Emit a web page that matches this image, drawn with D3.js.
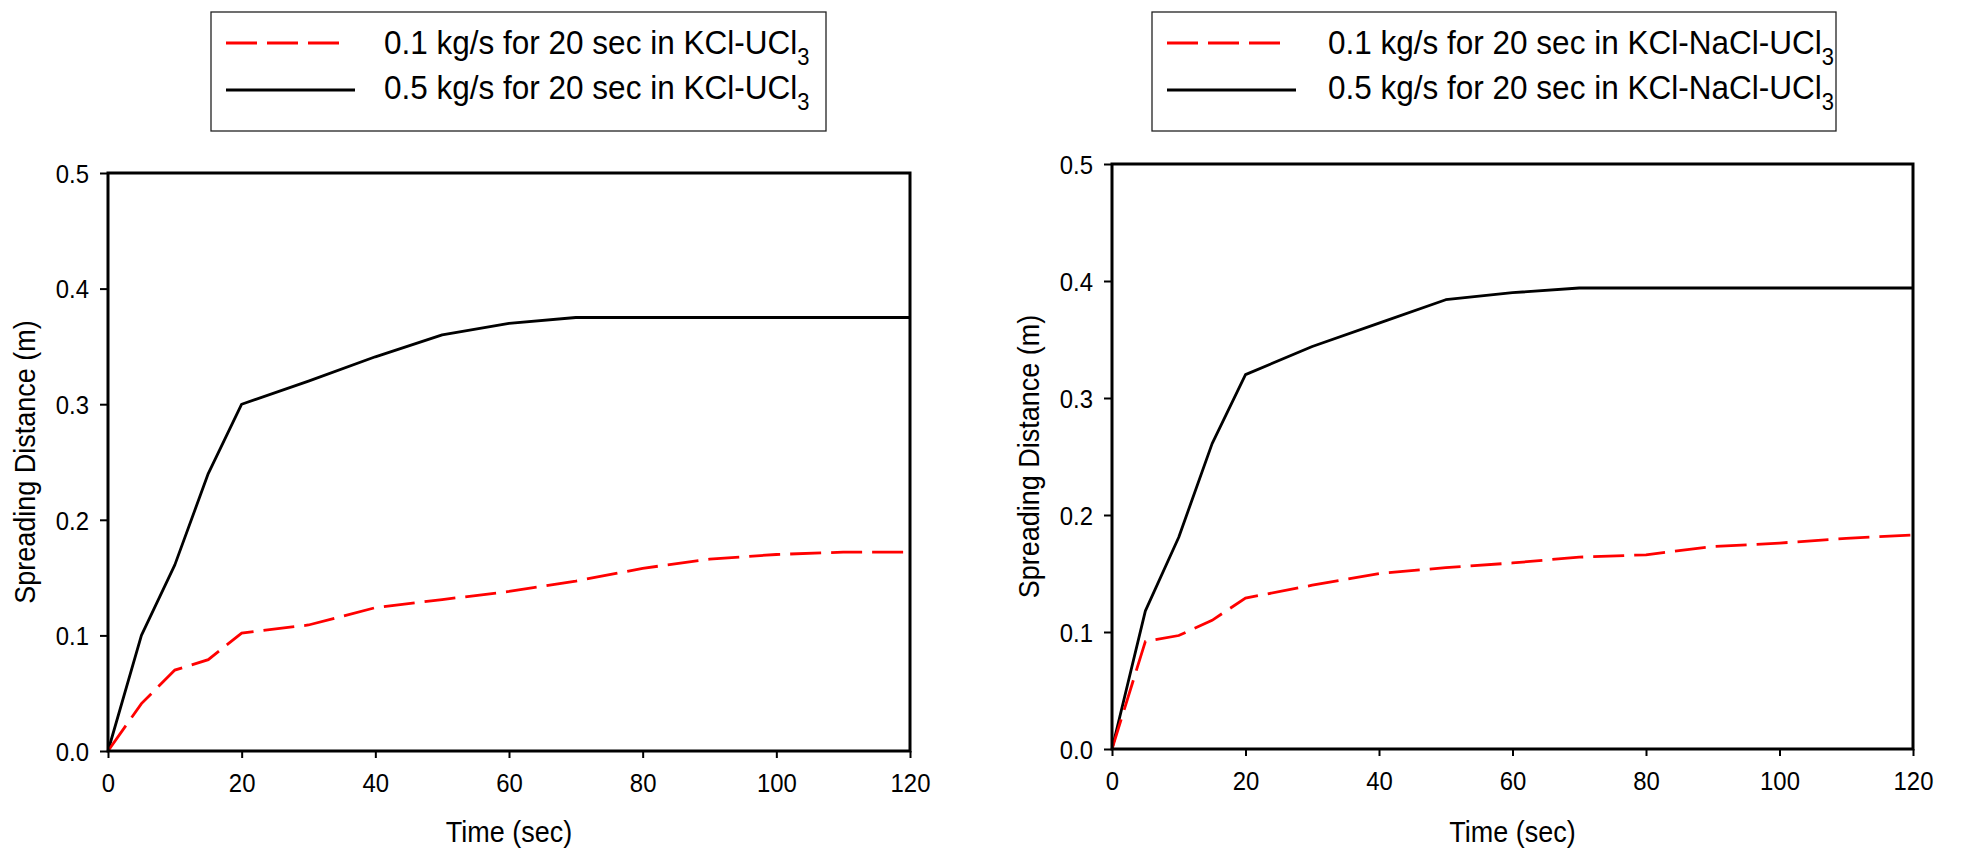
<!DOCTYPE html>
<html>
<head>
<meta charset="utf-8">
<script src="https://cdn.jsdelivr.net/npm/d3@7"></script>
<style>
  body { margin: 0; background: #fff; }
  text { font-family: "Liberation Sans", Arial, sans-serif; fill: #000; }
</style>
</head>
<body>
<svg id="chart" width="1962" height="852"></svg>
<script>
// time values (sec) shared by every curve
var times = [0, 5, 10, 15, 20, 30, 40, 50, 60, 70, 80, 90, 100, 110, 120];

// KCl-UCl3 panel
var kclLow  = [0, 0.041, 0.070, 0.079, 0.102, 0.109, 0.124, 0.131, 0.138, 0.147, 0.158, 0.166, 0.170, 0.172, 0.172];
var kclHigh = [0, 0.100, 0.161, 0.240, 0.300, 0.320, 0.341, 0.360, 0.370, 0.375, 0.375, 0.375, 0.375, 0.375, 0.375];

// KCl-NaCl-UCl3 panel
var naclLow  = [0, 0.092, 0.097, 0.110, 0.129, 0.140, 0.150, 0.155, 0.159, 0.164, 0.166, 0.173, 0.176, 0.180, 0.183];
var naclHigh = [0, 0.118, 0.181, 0.261, 0.320, 0.344, 0.364, 0.384, 0.390, 0.394, 0.394, 0.394, 0.394, 0.394, 0.394];

var xTicks = [0, 20, 40, 60, 80, 100, 120];
var yTicks = [0, 0.1, 0.2, 0.3, 0.4, 0.5];

var lowLabel  = ["0.1 kg/s for 20 sec in KCl-UCl", "0.1 kg/s for 20 sec in KCl-NaCl-UCl"];
var highLabel = ["0.5 kg/s for 20 sec in KCl-UCl", "0.5 kg/s for 20 sec in KCl-NaCl-UCl"];
var xTitle = "Time (sec)";
var yTitle = "Spreading Distance (m)";

var dash = "31,10";

var svg = d3.select("#chart");

// the source font is a little condensed: draw tall, squeeze sideways
function narrowText(g, x, y, size, sx, anchor, str) {
    var t = g.append("g")
        .attr("transform", "translate(" + x + "," + y + ") scale(" + sx + ",1)")
        .append("text")
        .style("font-size", size + "px")
        .style("text-anchor", anchor);
    t.text(str);
    return t;
}

function drawPanel(p) {
    var g = svg.append("g");

    var xs = d3.scaleLinear().domain([0, 120]).range([p.left, p.right]);
    var ys = d3.scaleLinear().domain([0, 0.5]).range([p.bottom, p.top]);

    // legend box
    g.append("rect")
        .attr("x", p.legX).attr("y", 12)
        .attr("width", p.legW).attr("height", 119)
        .attr("fill", "#fff").attr("stroke", "#222").attr("stroke-width", 1.3);

    g.append("line")
        .attr("x1", p.legX + 15).attr("x2", p.legX + 132)
        .attr("y1", 43).attr("y2", 43)
        .attr("stroke", "#ff0000").attr("stroke-width", 3)
        .attr("stroke-dasharray", dash);
    g.append("line")
        .attr("x1", p.legX + 15).attr("x2", p.legX + 144)
        .attr("y1", 90).attr("y2", 90)
        .attr("stroke", "#000").attr("stroke-width", 3);

    [[p.lowText, 54], [p.highText, 99]].forEach(function(d) {
        var t = narrowText(g, p.legX + p.textOff, d[1], 33, 0.955, "start", d[0]);
        t.append("tspan").attr("dy", 11).style("font-size", "23px").text("3");
    });

    // axes (outward ticks on left and bottom)
    var yAxis = d3.axisLeft(ys).tickValues(yTicks).tickSize(8).tickFormat(d3.format(".1f"));
    var xAxis = d3.axisBottom(xs).tickValues(xTicks).tickSize(7).tickFormat(d3.format("d"));

    var ya = g.append("g").attr("transform", "translate(" + p.left + ",0)").call(yAxis);
    var xa = g.append("g").attr("transform", "translate(0," + p.bottom + ")").call(xAxis);
    [ya, xa].forEach(function(a) {
        a.select(".domain").remove();
        a.selectAll("line").attr("stroke", "#000").attr("stroke-width", 2);
        a.selectAll("text").style("font-size", "26px").attr("fill", "#000")
            .style("font-family", "Liberation Sans, Arial, sans-serif");
    });
    ya.selectAll("text").attr("x", 0).attr("dy", "0.36em")
        .attr("transform", "translate(-19,0) scale(0.92,1)");
    xa.selectAll("text").attr("y", 41).attr("dy", 0)
        .attr("transform", "scale(0.92,1)");

    // curves
    var line = d3.line()
        .x(function(d) { return xs(d[0]); })
        .y(function(d) { return ys(d[1]); });

    g.append("path")
        .datum(d3.zip(times, p.high))
        .attr("d", line)
        .attr("fill", "none").attr("stroke", "#000").attr("stroke-width", 2.8)
        .attr("stroke-linejoin", "round");
    g.append("path")
        .datum(d3.zip(times, p.low))
        .attr("d", line)
        .attr("fill", "none").attr("stroke", "#ff0000").attr("stroke-width", 2.8)
        .attr("stroke-dasharray", dash);

    // frame
    g.append("rect")
        .attr("x", p.left).attr("y", p.top)
        .attr("width", p.right - p.left).attr("height", p.bottom - p.top)
        .attr("fill", "none").attr("stroke", "#000").attr("stroke-width", 3);

    // titles
    narrowText(g, (p.left + p.right) / 2, 842, 29, 0.93, "middle", xTitle);
    svg.append("g")
        .attr("transform", "translate(" + p.yTitleX + "," + ((p.top + p.bottom) / 2) + ") rotate(-90) scale(0.93,1)")
        .append("text")
        .style("font-size", "29px")
        .style("text-anchor", "middle")
        .text(yTitle);
}

drawPanel({
    left: 108, right: 910, top: 173, bottom: 751,
    legX: 211, legW: 615, textOff: 173,
    yTitleX: 35,
    low: kclLow, high: kclHigh,
    lowText: lowLabel[0], highText: highLabel[0]
});

drawPanel({
    left: 1112, right: 1913, top: 164, bottom: 749,
    legX: 1152, legW: 684, textOff: 176,
    yTitleX: 1039,
    low: naclLow, high: naclHigh,
    lowText: lowLabel[1], highText: highLabel[1]
});
</script>
</body>
</html>
